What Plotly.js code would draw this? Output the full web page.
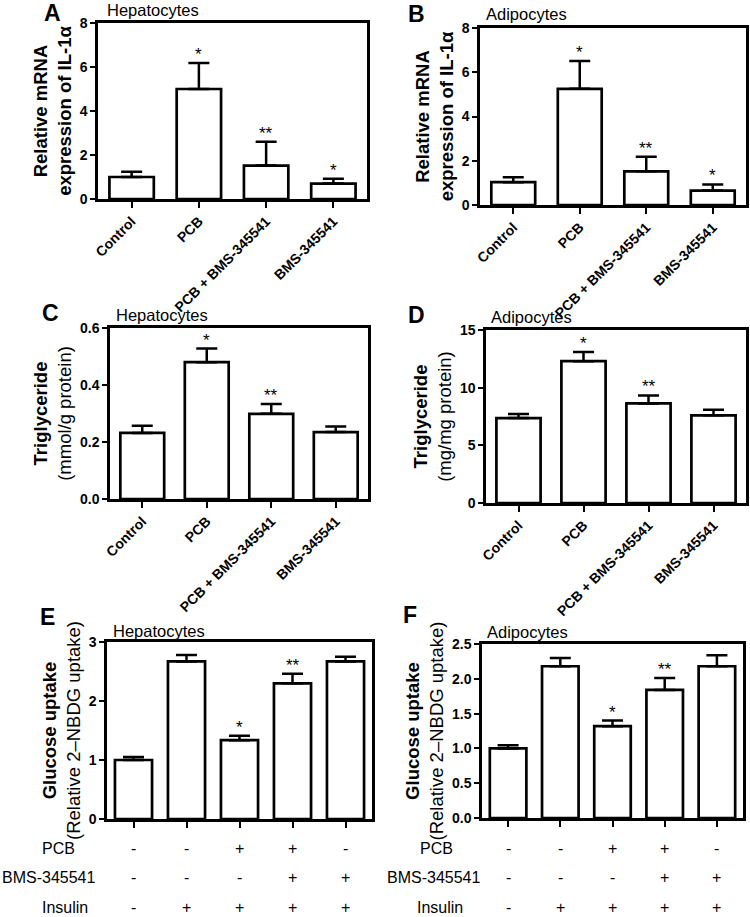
<!DOCTYPE html>
<html>
<head>
<meta charset="utf-8">
<script src="https://cdn.plot.ly/plotly-3.0.1.min.js"></script>
<style>html,body{margin:0;padding:0;background:#fff;}#chart{width:750px;height:917px;}</style>
</head>
<body>
<div id="chart"></div>
<script>
// ---------- data ----------
var categories = ['Control', 'PCB', 'PCB + BMS-345541', 'BMS-345541'];
var il1aHep = [1.0, 5.0, 1.52, 0.70];
var il1aHepErr = [0.24, 1.18, 1.08, 0.22];
var il1aAdi = [1.03, 5.25, 1.52, 0.65];
var il1aAdiErr = [0.22, 1.26, 0.66, 0.28];
var tgHep = [0.232, 0.480, 0.299, 0.235];
var tgHepErr = [0.025, 0.048, 0.034, 0.019];
var tgAdi = [7.36, 12.3, 8.63, 7.60];
var tgAdiErr = [0.36, 0.80, 0.70, 0.48];
var glcGroups = ['Control', 'Insulin', 'PCB + Insulin', 'PCB + BMS-345541 + Insulin', 'BMS-345541 + Insulin'];
var glcHep = [1.0, 2.67, 1.336, 2.30, 2.67];
var glcHepErr = [0.05, 0.11, 0.075, 0.16, 0.08];
var glcAdi = [1.0, 2.18, 1.32, 1.84, 2.18];
var glcAdiErr = [0.045, 0.12, 0.08, 0.17, 0.16];
var rowPCB = ['-', '-', '+', '+', '-'];
var rowBMS = ['-', '-', '-', '+', '+'];
var rowInsulin = ['-', '+', '+', '+', '+'];
var rowNames = ['PCB', 'BMS-345541', 'Insulin'];
var sigA = ['', '*', '**', '*'];
var sigB = ['', '*', '**', '*'];
var sigC = ['', '*', '**', ''];
var sigD = ['', '*', '**', ''];
var sigE = ['', '', '*', '**', ''];
var sigF = ['', '', '*', '**', ''];

// ---------- helpers ----------
var W = 750, H = 917;
var FONT = 'Arial, "Liberation Sans", sans-serif';
function px(x) { return x / W; }
function py(y) { return 1 - y / H; }

var panels = [
  {x: categories, y: il1aHep, e: il1aHepErr, sig: sigA, letter: 'A', sub: 'Hepatocytes',
   box: [98, 367, 23, 199], range: [0, 8], dtick: 2, fmt: 'd', bw: 0.66,
   title: '<b>Relative mRNA<br>expression of IL-1α</b>', letterPos: [52, 13], subPos: [105, 10]},
  {x: categories, y: il1aAdi, e: il1aAdiErr, sig: sigB, letter: 'B', sub: 'Adipocytes',
   box: [480, 746, 28, 205], range: [0, 8], dtick: 2, fmt: 'd', bw: 0.66,
   title: '<b>Relative mRNA<br>expression of IL-1α</b>', letterPos: [416, 14], subPos: [484, 14]},
  {x: categories, y: tgHep, e: tgHepErr, sig: sigC, letter: 'C', sub: 'Hepatocytes',
   box: [110, 368, 328, 499], range: [0, 0.6], dtick: 0.2, fmt: '.1f', bw: 0.68,
   title: '<b>Triglyceride</b><br>(mmol/g protein)', letterPos: [50, 313], subPos: [114, 315]},
  {x: categories, y: tgAdi, e: tgAdiErr, sig: sigD, letter: 'D', sub: 'Adipocytes',
   box: [486, 746, 330, 503], range: [0, 15], dtick: 5, fmt: 'd', bw: 0.68,
   title: '<b>Triglyceride</b><br>(mg/mg protein)', letterPos: [416, 315], subPos: [489, 317]},
  {x: glcGroups, y: glcHep, e: glcHepErr, sig: sigE, letter: 'E', sub: 'Hepatocytes',
   box: [107, 372, 642, 819], range: [0, 3], dtick: 1, fmt: 'd', bw: 0.7,
   title: '<b>Glucose uptake</b><br>(Relative 2–NBDG uptake)', letterPos: [47, 617], subPos: [111, 631], table: true},
  {x: glcGroups, y: glcAdi, e: glcAdiErr, sig: sigF, letter: 'F', sub: 'Adipocytes',
   box: [482, 743, 644, 818], range: [0, 2.5], dtick: 0.5, fmt: '.1f', bw: 0.7,
   title: '<b>Glucose uptake</b><br>(Relative 2–NBDG uptake)', letterPos: [410, 615], subPos: [485, 632], table: true}
];

var data = [];
var layout = {
  width: W, height: H,
  margin: {l: 0, r: 0, t: 0, b: 0},
  paper_bgcolor: '#fff', plot_bgcolor: '#fff',
  showlegend: false,
  font: {family: FONT, color: '#000', size: 12},
  annotations: []
};

panels.forEach(function (p, i) {
  var n = i + 1;
  var xa = 'x' + (n === 1 ? '' : n), ya = 'y' + (n === 1 ? '' : n);
  var xk = 'xaxis' + (n === 1 ? '' : n), yk = 'yaxis' + (n === 1 ? '' : n);
  data.push({
    type: 'bar', x: p.x, y: p.y, xaxis: xa, yaxis: ya, width: p.bw,
    marker: {color: '#fff', line: {color: '#000', width: 2.7}},
    error_y: {type: 'data', symmetric: false, array: p.e, arrayminus: p.e.map(function () { return 0; }),
              color: '#000', thickness: 2.5, width: 10.5},
    hoverinfo: 'x+y'
  });
  var b = p.box;
  layout[xk] = {
    domain: [px(b[0]), px(b[1])], anchor: ya,
    type: 'category',
    showline: true, mirror: true, linecolor: '#000', linewidth: 2.7,
    ticks: 'outside', ticklen: 6, tickwidth: 2, tickcolor: '#000',
    showticklabels: !p.table,
    tickangle: -45,
    tickfont: {family: FONT, size: 14, color: '#000', weight: 'bold'},
    showgrid: false, zeroline: false, fixedrange: true
  };
  layout[yk] = {
    domain: [py(b[3]), py(b[2])], anchor: xa,
    range: p.range, dtick: p.dtick, tick0: 0, tickformat: p.fmt,
    showline: true, mirror: true, linecolor: '#000', linewidth: 2.7,
    ticks: 'outside', ticklen: 5, tickwidth: 2, tickcolor: '#000',
    tickfont: {family: FONT, size: 14, color: '#000', weight: 'bold'},
    showgrid: false, zeroline: false, fixedrange: true,
    title: {text: p.title, font: {family: FONT, size: 18.5, color: '#000'}, standoff: 4}
  };
  layout.annotations.push({
    xref: 'paper', yref: 'paper', x: px(p.letterPos[0]), y: py(p.letterPos[1]),
    xanchor: 'center', yanchor: 'middle', showarrow: false,
    text: '<b>' + p.letter + '</b>', font: {family: FONT, size: 23, color: '#000'}
  });
  layout.annotations.push({
    xref: 'paper', yref: 'paper', x: px(p.subPos[0]), y: py(p.subPos[1]),
    xanchor: 'left', yanchor: 'middle', showarrow: false,
    text: p.sub, font: {family: FONT, size: 16.5, color: '#000'}
  });
  p.x.forEach(function (c, k) {
    if (!p.sig[k]) return;
    layout.annotations.push({
      xref: xa, yref: ya, x: c, y: p.y[k] + p.e[k],
      xanchor: 'center', yanchor: 'bottom', showarrow: false, yshift: -3,
      text: p.sig[k], font: {family: FONT, size: 17, color: '#000'}
    });
  });
  if (p.table) {
    var rows = [rowPCB, rowBMS, rowInsulin];
    var rowY = [848, 877, 907];
    var labelX = i === 4 ? [40, 0, 40] : [418, 385, 415];
    rows.forEach(function (r, ri) {
      layout.annotations.push({
        xref: 'paper', yref: 'paper', x: px(labelX[ri]), y: py(rowY[ri]),
        xanchor: 'left', yanchor: 'middle', showarrow: false,
        text: rowNames[ri], font: {family: FONT, size: 16, color: '#000'}
      });
      r.forEach(function (s, k) {
        layout.annotations.push({
          xref: xa, yref: 'paper', x: p.x[k], y: py(rowY[ri]),
          xanchor: 'center', yanchor: 'middle', showarrow: false,
          text: s, font: {family: FONT, size: 16, color: '#000'}
        });
      });
    });
  }
});

Plotly.newPlot('chart', data, layout, {displayModeBar: false, staticPlot: true});
</script>
</body>
</html>
